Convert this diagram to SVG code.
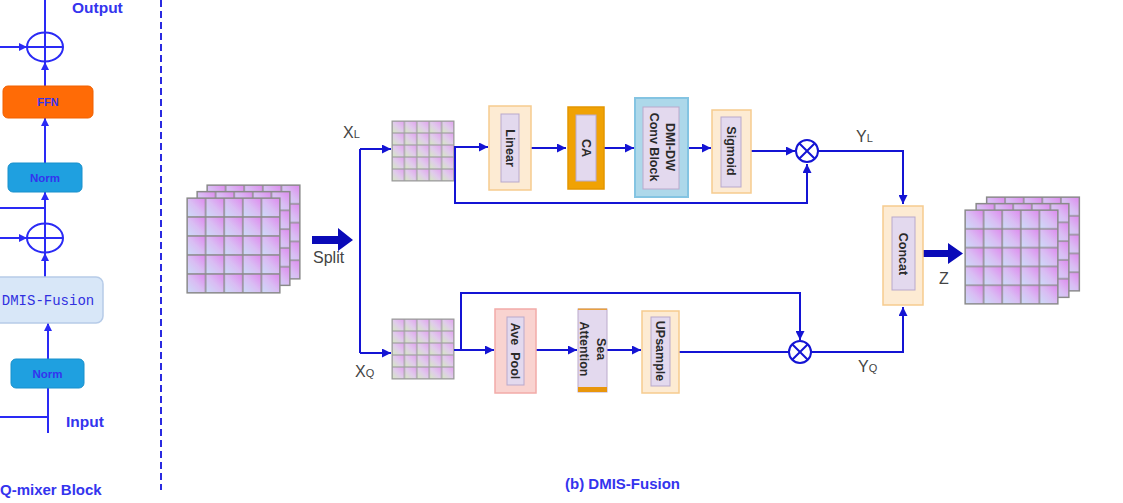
<svg xmlns="http://www.w3.org/2000/svg" width="1123" height="503" viewBox="0 0 1123 503">
<defs>
<style>
.ln{fill:none;stroke:#1414d4;stroke-width:2}
.lnL{fill:none;stroke:#2a2af5;stroke-width:2}
.lbl{font-family:"Liberation Sans",Arial,sans-serif;fill:#444;font-size:16px}
.sub{font-size:11px}
.bt{font-family:"Liberation Sans",Arial,sans-serif;font-weight:bold;fill:#2a2a2a;font-size:12.5px}
.lt{font-family:"Liberation Sans",Arial,sans-serif;font-weight:bold;fill:#3434ee}
.peach{fill:#FDEBD3;stroke:#F6CB8E;stroke-width:1.5}
.inner{fill:#E3D9EE;stroke:#B9A9CC;stroke-width:1}
.gridB{fill:url(#pB);stroke:#8a8a8a;stroke-width:1.2}
.gridS{fill:url(#pS);stroke:#9a9a9a;stroke-width:1}
</style>
<linearGradient id="gB" x1="0" y1="1" x2="1" y2="0">
<stop offset="0" stop-color="#CCDCF8"/>
<stop offset="0.5" stop-color="#D9BDF3"/>
<stop offset="1" stop-color="#DE88EE"/>
</linearGradient>
<linearGradient id="gS" x1="1" y1="0" x2="0" y2="1">
<stop offset="0" stop-color="#E2A0F0"/>
<stop offset="0.5" stop-color="#E0CBEB"/>
<stop offset="1" stop-color="#D4EAC0"/>
</linearGradient>
<pattern id="pB" patternUnits="objectBoundingBox" x="0" y="0" width="0.2" height="0.2">
<rect x="0" y="0" width="18.6" height="18.9" fill="url(#gB)" stroke="#8a8a8a" stroke-width="1.4"/>
</pattern>
<pattern id="pS" patternUnits="objectBoundingBox" x="0" y="0" width="0.2" height="0.2">
<rect x="0" y="0" width="12.4" height="12" fill="url(#gS)" stroke="#a0a0a0" stroke-width="1.2"/>
</pattern>
<marker id="ah" viewBox="0 0 10 10" refX="10" refY="5" markerWidth="11" markerHeight="9" markerUnits="userSpaceOnUse" orient="auto">
<path d="M0,0 L10,5 L0,10 z" fill="#1414d4"/>
</marker>
<marker id="ahL" viewBox="0 0 10 10" refX="10" refY="5" markerWidth="9" markerHeight="8" markerUnits="userSpaceOnUse" orient="auto">
<path d="M0,0 L10,5 L0,10 z" fill="#2a2af5"/>
</marker>
</defs>
<rect width="1123" height="503" fill="#ffffff"/>

<!-- Left panel: Q-mixer block -->
<g id="left-connectors">
<line class="lnL" x1="45" y1="0" x2="45" y2="62"/>
<line class="lnL" x1="0" y1="47" x2="27" y2="47" marker-end="url(#ahL)"/>
<line class="lnL" x1="45" y1="86" x2="45" y2="62" marker-end="url(#ahL)"/>
<line class="lnL" x1="45" y1="163" x2="45" y2="118" marker-end="url(#ahL)"/>
<line class="lnL" x1="45" y1="224" x2="45" y2="192" marker-end="url(#ahL)"/>
<line class="lnL" x1="0" y1="208" x2="45" y2="208"/>
<line class="lnL" x1="45" y1="224" x2="45" y2="252"/>
<line class="lnL" x1="0" y1="238" x2="27" y2="238" marker-end="url(#ahL)"/>
<line class="lnL" x1="45" y1="277" x2="45" y2="253" marker-end="url(#ahL)"/>
<line class="lnL" x1="48" y1="359" x2="48" y2="323" marker-end="url(#ahL)"/>
<line class="lnL" x1="48" y1="388" x2="48" y2="433"/>
<line class="lnL" x1="0" y1="417" x2="48" y2="417"/>
</g>
<g id="add-top">
<ellipse cx="45" cy="47" rx="18" ry="14.5" fill="none" stroke="#2a2af5" stroke-width="2"/>
<line class="lnL" x1="27" y1="47" x2="63" y2="47"/>
</g>
<g id="add-bottom">
<ellipse cx="45" cy="238" rx="18" ry="14.5" fill="none" stroke="#2a2af5" stroke-width="2"/>
<line class="lnL" x1="27" y1="238" x2="63" y2="238"/>
</g>
<g id="ffn">
<rect x="3" y="86" width="90" height="32" rx="5" fill="#FF6B06" stroke="#F06000" stroke-width="1"/>
<text class="lt" x="48" y="106" font-size="11" text-anchor="middle" fill="#2a2ad0">FFN</text>
</g>
<g id="norm-top">
<rect x="8" y="163" width="74" height="29" rx="5" fill="#1FA0E0" stroke="#1890CC" stroke-width="1"/>
<text class="lt" x="45" y="181.5" font-size="11.5" text-anchor="middle" fill="#2a2ad0">Norm</text>
</g>
<g id="dmis-fusion-block">
<rect x="-6" y="277" width="109" height="46" rx="7" fill="#D8E7F8" stroke="#B6CBE8" stroke-width="1.5"/>
<text x="48" y="305" font-family="'Liberation Mono','DejaVu Sans Mono',monospace" font-size="14" text-anchor="middle" fill="#3030e0">DMIS-Fusion</text>
</g>
<g id="norm-bottom">
<rect x="11" y="359" width="73" height="29" rx="5" fill="#1FA0E0" stroke="#1890CC" stroke-width="1"/>
<text class="lt" x="47.5" y="377.5" font-size="11.5" text-anchor="middle" fill="#2a2ad0">Norm</text>
</g>
<g id="left-labels">
<text class="lt" x="72" y="13" font-size="15.5">Output</text>
<text class="lt" x="66" y="427" font-size="15.5">Input</text>
<text class="lt" x="0" y="495" font-size="15">Q-mixer Block</text>
</g>
<line id="divider" x1="161" y1="0" x2="161" y2="490" stroke="#2a2ae0" stroke-width="2" stroke-dasharray="7,4"/>

<!-- Right panel: DMIS-Fusion -->
<g id="input-stack">
<rect class="gridB" x="207" y="185" width="93" height="94"/>
<rect class="gridB" x="197" y="191.5" width="93" height="94"/>
<rect class="gridB" x="187" y="198" width="93" height="95"/>
</g>
<g id="output-stack">
<rect class="gridB" x="986.5" y="197" width="93" height="94"/>
<rect class="gridB" x="976" y="203.5" width="93" height="94"/>
<rect class="gridB" x="965" y="210" width="93" height="94"/>
</g>
<g id="xl-grid"><rect class="gridS" x="392" y="121" width="62" height="60"/></g>
<g id="xq-grid"><rect class="gridS" x="392" y="319" width="62" height="60"/></g>

<g id="connectors">
<path class="ln" d="M360,149 V353"/>
<path class="ln" d="M360,149 H391" marker-end="url(#ah)"/>
<path class="ln" d="M360,353 H391" marker-end="url(#ah)"/>
<path class="ln" d="M454,147 H488" marker-end="url(#ah)"/>
<path class="ln" d="M455,147 V203 H807 V164" marker-end="url(#ah)"/>
<path class="ln" d="M531,148 H566" marker-end="url(#ah)"/>
<path class="ln" d="M604,148 H634" marker-end="url(#ah)"/>
<path class="ln" d="M679,148 H711" marker-end="url(#ah)"/>
<path class="ln" d="M751,151 H795" marker-end="url(#ah)"/>
<path class="ln" d="M818,151 H903 V204" marker-end="url(#ah)"/>
<path class="ln" d="M454,350 H494" marker-end="url(#ah)"/>
<path class="ln" d="M461,350 V293 H800 V340" marker-end="url(#ah)"/>
<path class="ln" d="M536,350 H577" marker-end="url(#ah)"/>
<path class="ln" d="M607,350 H641" marker-end="url(#ah)"/>
<path class="ln" d="M679,352 H789"/>
<path class="ln" d="M811,352 H903 V307" marker-end="url(#ah)"/>
<path d="M312,236 H338 V228 L353,240 L338,251 V244 H312 Z" fill="#0A0AB8"/>
<path d="M923,250 H948 V243 L963,253.5 L948,264 V257 H923 Z" fill="#0A0AB8"/>
</g>

<g id="mul-top">
<circle cx="807" cy="151" r="11" fill="#fff" stroke="#1414d4" stroke-width="2"/>
<path d="M799.2,143.2 L814.8,158.8 M814.8,143.2 L799.2,158.8" stroke="#1414d4" stroke-width="2"/>
</g>
<g id="mul-bottom">
<circle cx="800" cy="352" r="11" fill="#fff" stroke="#1414d4" stroke-width="2"/>
<path d="M792.2,344.2 L807.8,359.8 M807.8,344.2 L792.2,359.8" stroke="#1414d4" stroke-width="2"/>
</g>

<g id="linear">
<rect class="peach" x="489" y="106" width="42" height="84"/>
<rect class="inner" x="501" y="114" width="18" height="68"/>
<text class="bt" transform="translate(510,148) rotate(90)" text-anchor="middle" dy="0.35em">Linear</text>
</g>
<g id="ca">
<rect x="568" y="107" width="36" height="82" fill="#F0A204" stroke="#E49600" stroke-width="1.5"/>
<rect class="inner" x="576" y="115" width="20" height="66"/>
<text class="bt" transform="translate(586,148) rotate(90)" text-anchor="middle" dy="0.35em">CA</text>
</g>
<g id="dmi-dw">
<rect x="635" y="98" width="53" height="99" fill="#ADD8EA" stroke="#84C4E2" stroke-width="2"/>
<rect class="inner" x="643" y="107" width="36" height="82"/>
<text class="bt" transform="translate(662,147) rotate(90)" text-anchor="middle"><tspan x="0" y="-8" dy="0.35em">DMI-DW</tspan><tspan x="0" y="8" dy="0.35em">Conv Block</tspan></text>
</g>
<g id="sigmoid">
<rect class="peach" x="712" y="110" width="39" height="83"/>
<rect class="inner" x="721" y="117" width="20" height="70"/>
<text class="bt" transform="translate(731,151) rotate(90)" text-anchor="middle" dy="0.35em">Sigmoid</text>
</g>
<g id="concat">
<rect class="peach" x="883" y="206" width="40" height="99"/>
<rect class="inner" x="892" y="217" width="23" height="73"/>
<text class="bt" transform="translate(903.5,254) rotate(90)" text-anchor="middle" dy="0.35em">Concat</text>
</g>
<g id="ave-pool">
<rect x="495" y="309" width="41" height="84" fill="#F9D3D0" stroke="#F2ABA8" stroke-width="1.5"/>
<rect class="inner" x="507" y="317" width="17" height="68"/>
<text class="bt" transform="translate(515.5,351) rotate(90)" text-anchor="middle" dy="0.35em" xml:space="preserve">Ave  Pool</text>
</g>
<g id="sea-attention">
<rect x="578" y="309" width="29" height="83" fill="#E3D9EE" stroke="#BBAACC" stroke-width="1"/>
<rect x="578" y="308.5" width="29" height="1.5" fill="#E8A040"/>
<rect x="578" y="387" width="29" height="5" fill="#E8960C"/>
<text class="bt" transform="translate(592.5,349) rotate(90)" text-anchor="middle"><tspan x="0" y="-8.5" dy="0.35em">Sea</tspan><tspan x="0" y="8.5" dy="0.35em">Attention</tspan></text>
</g>
<g id="upsample">
<rect class="peach" x="642" y="311" width="37" height="82"/>
<rect class="inner" x="651" y="317" width="19" height="69"/>
<text class="bt" transform="translate(660.5,351) rotate(90)" text-anchor="middle" dy="0.35em">UPsample</text>
</g>

<g id="labels">
<text class="lbl" x="343" y="138">X<tspan class="sub">L</tspan></text>
<text class="lbl" x="355" y="377">X<tspan class="sub">Q</tspan></text>
<text class="lbl" x="856" y="142">Y<tspan class="sub">L</tspan></text>
<text class="lbl" x="858" y="372">Y<tspan class="sub">Q</tspan></text>
<text class="lbl" x="939" y="284">Z</text>
<text class="lbl" x="313" y="263">Split</text>
<text class="lt" x="622.5" y="489" font-size="15" text-anchor="middle">(b) DMIS-Fusion</text>
</g>
</svg>
